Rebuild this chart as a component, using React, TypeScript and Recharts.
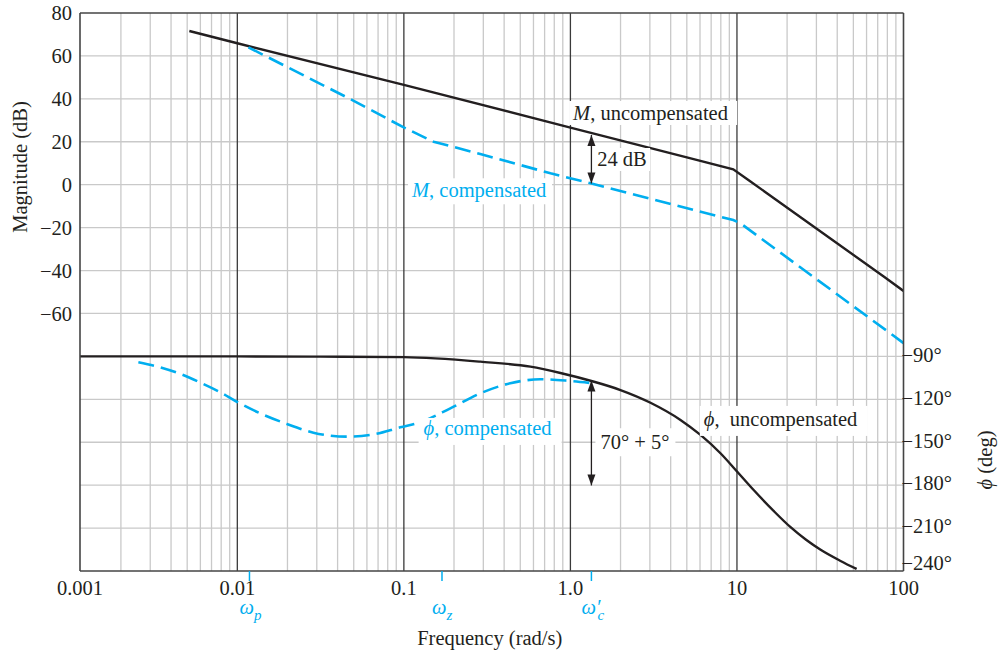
import React from "react";
import { LineChart, Line, XAxis, YAxis, ReferenceLine, ReferenceDot, Label } from "recharts";

// ---------- axes ----------
const X_MIN = 0.001136;
const X_MAX = 100;
const xTickValues = [X_MIN, 0.01, 0.1, 1, 10, 100];
const xTickLabels = ["0.001", "0.01", "0.1", "1.0", "10", "100"];
const omegaTickValues = [0.01183, 0.1694, 1.337];
const omegaSubs = ["p", "z", "c"];
const omegaPrime = [false, false, true];

const magDomain = [-180, 80];
const magTicks = [80, 60, 40, 20, 0, -20, -40, -60];
const phaseDomain = [-240, 150];
const phaseTicks = [-90, -120, -150, -180, -210, -240];
const magGrid = [60, 40, 20, 0, -20, -40, -60, -80, -100, -120, -140, -160];
const decadeLines = [0.01, 0.1, 1, 10];
const decadeStarts = [0.001, 0.01, 0.1, 1, 10];
const minorMultipliers = [2, 3, 4, 5, 6, 7, 8, 9];

// ---------- series ----------
const magUncompW = [0.00515, 0.01, 0.1, 1, 5, 9.5, 12, 76.4, 100];
const magUncompDb = [71.6, 65.9, 46.5, 26.6, 12.7, 7.2, 1.6, -42.9, -49.5];

const magCompW = [0.01166, 0.0455, 0.0998, 0.13, 0.1509, 0.175, 0.2877, 0.759, 1.337, 9.51, 10.5, 100];
const magCompDb = [64, 40.7, 26.7, 22.4, 20.0, 18.7, 14.3, 5.3, 0.6, -16.5, -18, -73.8];

const phaseUncompW = [X_MIN, 0.01, 0.0315, 0.1, 0.2877, 0.575, 0.8708, 1.337, 1.998, 3.026, 4.58, 6.04, 7.96, 10.04, 12.64, 16.67, 20.99, 26, 31.8, 41.9, 52.3];
const phaseUncompDeg = [-90, -90, -90.2, -90.5, -93.7, -97.2, -101.6, -107.2, -113.5, -122.4, -134.4, -144.9, -157.7, -170.6, -183.6, -198.2, -209.4, -218.2, -225.2, -233, -238.6];

const phaseCompW = [0.002546, 0.003436, 0.004529, 0.00597, 0.007881, 0.00993, 0.01371, 0.01982, 0.02864, 0.04546, 0.06573, 0.09508, 0.1256, 0.1901, 0.2877, 0.4355, 0.6592, 0.9554, 1.3];
const phaseCompDeg = [-94.1, -97.6, -102.2, -108.2, -115.0, -121.7, -129.8, -137.2, -143.3, -146.1, -144.5, -139.6, -136, -126.3, -115.8, -108.8, -106, -107, -108.5];

const toRows = (ws: number[], vs: number[]) => ws.map((w, i) => ({ w, v: vs[i] }));
const magUncompData = toRows(magUncompW, magUncompDb);
const magCompData = toRows(magCompW, magCompDb);
const phaseUncompData = toRows(phaseUncompW, phaseUncompDeg);
const phaseCompData = toRows(phaseCompW, phaseCompDeg);

const minorLines = decadeStarts.flatMap((d) => minorMultipliers.map((m) => m * d)).filter((v) => v > X_MIN && v < X_MAX);

// ---------- styles ----------
const FONT = "'Liberation Serif', 'Times New Roman', serif";
const INK = "#231f20";
const BLUE = "#00aeef";
const GRID = "#c9c9c9";
const MAJOR = "#3a3a3a";
const FS = 20.5;

const minus = (v: number) => (v < 0 ? "\u2212" + Math.abs(v) : String(v));

// annotations (anchor in data coords: text start, baseline)
const annotations = [
  { w: 1.038, v: 30.15, axis: "mag", color: INK, parts: [["M", true], [", uncompensated", false]], box: [-4, -19, 168, 24] },
  { w: 1.447, v: 8.71, axis: "mag", color: INK, parts: [["24 dB", false]], box: [-3, -18, 56, 23] },
  { w: 0.1119, v: -5.87, axis: "mag", color: BLUE, parts: [["M", true], [", compensated", false]], box: [-4, -19, 144, 26] },
  { w: 0.1314, v: -144.9, axis: "phase", color: BLUE, parts: [["\u03d5", true], [", compensated", false]], box: [-5, -17, 143, 27] },
  { w: 1.514, v: -154.9, axis: "phase", color: INK, parts: [["70\u00b0 + 5\u00b0", false]], box: [-5, -21, 80, 28] },
  { w: 6.325, v: -138.6, axis: "phase", color: INK, parts: [["\u03d5", true], [",  uncompensated", false]], box: [-4, -20, 168, 30] },
];

const arrows = [
  { w: 1.337, top: 23.2, bottom: 0.6, axis: "mag" },
  { w: 1.337, top: -106.8, bottom: -180.2, axis: "phase" },
];

function XTick(props: any) {
  const { x, y, payload } = props;
  const val = payload.value;
  const i = xTickValues.indexOf(val);
  if (i >= 0) {
    return (
      <text x={x} y={y + 24} textAnchor="middle" fontFamily={FONT} fontSize={FS} fill={INK}>
        {xTickLabels[i]}
      </text>
    );
  }
  const j = omegaTickValues.indexOf(val);
  if (j >= 0) {
    return (
      <g>
        <line x1={x} x2={x} y1={y} y2={y + 10} stroke={BLUE} strokeWidth={1.5} />
        <text x={x - 10} y={y + 43} fontFamily={FONT} fontSize={FS} fill={BLUE} fontStyle="italic">
          {"\u03c9"}
          {omegaPrime[j] ? "\u2032" : ""}
          <tspan dx={omegaPrime[j] ? -3 : 0} dy={6} fontSize={15}>{omegaSubs[j]}</tspan>
        </text>
      </g>
    );
  }
  return null;
}

function PhaseTick(props: any) {
  const { x, y, payload } = props;
  const v = payload.value;
  const lift = v === phaseDomain[0] ? 8 : 2;
  return (
    <text x={x - 10} y={y - lift} dy="0.355em" textAnchor="start" fontFamily={FONT} fontSize={FS} fill={INK}>
      {minus(v) + "\u00b0"}
    </text>
  );
}

const labelShape = (a: any) => (p: any) => {
  const { cx, cy } = p;
  return (
    <g>
      <rect x={cx + a.box[0]} y={cy + a.box[1]} width={a.box[2]} height={a.box[3]} fill="#ffffff" />
      <text x={cx} y={cy} fontFamily={FONT} fontSize={FS} fill={a.color} style={{ whiteSpace: "pre" }}>
        {a.parts.map((pt: any, k: number) => (
          <tspan key={k} fontStyle={pt[1] ? "italic" : "normal"}>{pt[0]}</tspan>
        ))}
      </text>
    </g>
  );
};

const headUp = (p: any) => <path d={`M${p.cx},${p.cy} l-4,11 l8,0 z`} fill={INK} />;
const headDown = (p: any) => <path d={`M${p.cx},${p.cy} l-4,-11 l8,0 z`} fill={INK} />;

export default function App() {
  return (
    <div style={{ position: "absolute", left: 0, top: 0, width: 1004, height: 653, background: "#fff" }}>
      <LineChart width={1004} height={653} margin={{ top: 13, right: 0, bottom: 0, left: 0 }}>
        <XAxis
          dataKey="w"
          type="number"
          scale="log"
          domain={[X_MIN, X_MAX]}
          allowDataOverflow
          ticks={[...xTickValues, ...omegaTickValues]}
          interval={0}
          tick={<XTick />}
          tickLine={false}
          tickSize={0}
          tickMargin={0}
          height={82}
          axisLine={{ stroke: "#444", strokeWidth: 1.6 }}
        >
          <Label
            content={(p: any) => {
              const vb = p.viewBox;
              return (
                <text x={vb.x + vb.width / 2 - 2} y={vb.y + 74} textAnchor="middle" fontFamily={FONT} fontSize={FS} fill={INK}>
                  Frequency (rad/s)
                </text>
              );
            }}
          />
        </XAxis>
        <YAxis
          yAxisId="mag"
          orientation="left"
          type="number"
          domain={magDomain}
          allowDataOverflow
          ticks={magTicks}
          interval={0}
          width={80}
          tickLine={false}
          tickFormatter={minus}
          tick={{ fontFamily: FONT, fontSize: FS, fill: INK }}
          axisLine={{ stroke: "#444", strokeWidth: 1.6 }}
        >
          <Label
            content={(p: any) => {
              const vb = p.viewBox;
              const cx = vb.x + 20;
              const cy = vb.y + 154;
              return (
                <text x={cx} y={cy} transform={`rotate(-90 ${cx} ${cy})`} textAnchor="middle" dominantBaseline="central" fontFamily={FONT} fontSize={FS} fill={INK}>
                  Magnitude (dB)
                </text>
              );
            }}
          />
        </YAxis>
        <YAxis
          yAxisId="phase"
          orientation="right"
          type="number"
          domain={phaseDomain}
          allowDataOverflow
          ticks={phaseTicks}
          interval={0}
          width={100.5}
          tickLine={false}
          tick={<PhaseTick />}
          axisLine={{ stroke: "#444", strokeWidth: 1.6 }}
        >
          <Label
            content={(p: any) => {
              const vb = p.viewBox;
              const cx = vb.x + 81.5;
              const cy = vb.y + 447;
              return (
                <text x={cx} y={cy} transform={`rotate(-90 ${cx} ${cy})`} textAnchor="middle" dominantBaseline="central" fontFamily={FONT} fontSize={FS} fill={INK}>
                  <tspan fontStyle="italic">{"\u03d5"}</tspan> (deg)
                </text>
              );
            }}
          />
        </YAxis>

        {magGrid.map((v) => (
          <ReferenceLine key={"h" + v} yAxisId="mag" y={v} stroke={GRID} strokeWidth={1.3} />
        ))}
        {minorLines.map((v) => (
          <ReferenceLine key={"m" + v} yAxisId="mag" x={v} stroke={GRID} strokeWidth={1.3} />
        ))}
        {decadeLines.map((v) => (
          <ReferenceLine key={"d" + v} yAxisId="mag" x={v} stroke={MAJOR} strokeWidth={1.3} />
        ))}
        <ReferenceLine yAxisId="mag" y={80} stroke="#444" strokeWidth={1.6} />

        {annotations.map((a, k) => (
          <ReferenceDot key={"a" + k} yAxisId={a.axis} x={a.w} y={a.v} r={0} shape={labelShape(a)} />
        ))}

        <Line data={magUncompData} dataKey="v" yAxisId="mag" type="linear" stroke={INK} strokeWidth={2.4} dot={false} isAnimationActive={false} />
        <Line data={magCompData} dataKey="v" yAxisId="mag" type="linear" stroke={BLUE} strokeWidth={2.6} strokeDasharray="16 7" dot={false} isAnimationActive={false} />
        <Line data={phaseUncompData} dataKey="v" yAxisId="phase" type="monotone" stroke={INK} strokeWidth={2.4} dot={false} isAnimationActive={false} />
        <Line data={phaseCompData} dataKey="v" yAxisId="phase" type="monotone" stroke={BLUE} strokeWidth={2.6} strokeDasharray="16 7" dot={false} isAnimationActive={false} />

        {arrows.map((a, k) => (
          <ReferenceLine
            key={"ar" + k}
            yAxisId={a.axis}
            segment={[{ x: a.w, y: a.top }, { x: a.w, y: a.bottom }]}
            stroke={INK}
            strokeWidth={1.3}
          />
        ))}
        {arrows.map((a, k) => (
          <ReferenceDot key={"hu" + k} yAxisId={a.axis} x={a.w} y={a.top} r={0} shape={headUp} />
        ))}
        {arrows.map((a, k) => (
          <ReferenceDot key={"hd" + k} yAxisId={a.axis} x={a.w} y={a.bottom} r={0} shape={headDown} />
        ))}
      </LineChart>
    </div>
  );
}
